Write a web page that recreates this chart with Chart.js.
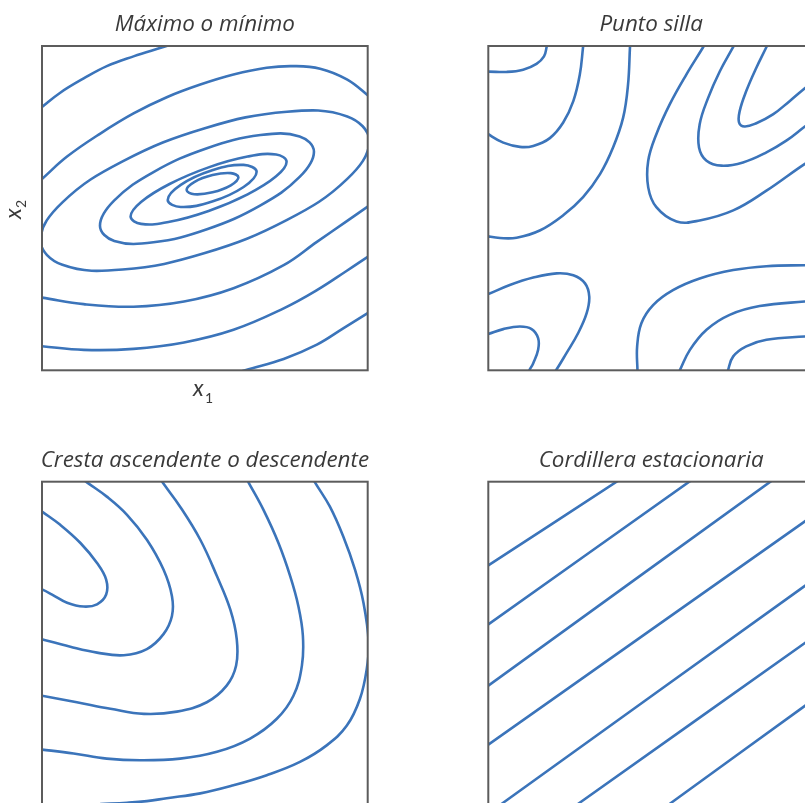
<!DOCTYPE html>
<html>
<head>
<meta charset="utf-8">
<script src="https://cdn.jsdelivr.net/npm/chart.js@4.4.1/dist/chart.umd.min.js"></script>
<style>
  html, body { margin: 0; padding: 0; width: 805px; height: 803px; overflow: hidden; background: #fff; }
  canvas { position: absolute; display: block; }
</style>
</head>
<body>
<canvas id="peak" width="400" height="410" style="left:0;top:0"></canvas>
<canvas id="saddle" width="400" height="410" style="left:445px;top:0"></canvas>
<canvas id="ridge" width="400" height="400" style="left:0;top:435px"></canvas>
<canvas id="flat" width="400" height="400" style="left:445px;top:435px"></canvas>
<script>
// Panel titles
const titles = ['Máximo o mínimo', 'Punto silla', 'Cresta ascendente o descendente', 'Cordillera estacionaria'];
const axisNames = { x: ['x', '1'], y: ['x', '2'] };

// ---- Máximo o mínimo: nested tilted rings plus outer open contours (x1, x2 in 0..100) ----
const peakArc1 = [[-2,79.6],[0,81.2],[5.6,85.6],[12.8,90.0],[19.9,93.8],[28.1,96.8],[37.0,99.6],[42,101.2]];
const peakArc2 = [[-2,57.2],[0,59.0],[7.7,65.9],[17.9,73.0],[28.1,79.2],[38.3,84.2],[48.6,88.1],[58.8,91.2],[69.0,93.3],[77.2,93.8],[85.4,93.0],[93.6,89.7],[100,84.8],[103,82]];
const peakRing3 = [[100.5,70.7],[93.73,78.28],[75.25,79.73],[50,74.66],[24.75,64.43],[6.27,51.78],[-0.5,40.1],[6.27,32.52],[24.75,31.07],[50,36.14],[75.25,46.37],[93.73,59.02]];
const peakRing4 = [[83.5,67.4],[79.1,72.12],[67.08,72.53],[50.65,68.5],[34.23,61.13],[22.2,52.38],[17.8,44.6],[22.2,39.88],[34.23,39.47],[50.65,43.5],[67.08,50.87],[79.1,59.62]];
const peakRing5 = [[75.1,64.3],[71.89,66.54],[63.13,65.91],[51.15,62.58],[39.17,57.45],[30.41,51.9],[27.2,47.4],[30.41,45.16],[39.17,45.79],[51.15,49.12],[63.13,54.25],[71.89,59.8]];
const peakRing6 = [[65.9,61.2],[61.9,63.34],[52.25,61.68],[42.6,57.18],[38.6,52.5],[42.6,50.36],[52.25,52.02],[61.9,56.52]];
const peakRing7 = [[60.3,59.5],[57.97,60.81],[52.35,60.21],[46.73,58.05],[44.4,55.6],[46.73,54.29],[52.35,54.89],[57.97,57.05]];
const peakArc8 = [[-2,22.6],[0,22.4],[12.8,20.4],[28.1,19.6],[43.6,21.2],[58.8,25.3],[74.2,32.4],[84.4,39.6],[93.6,46.0],[100,50.5],[103,52.6]];
const peakArc9 = [[-2,7.6],[0,7.4],[12.8,6.3],[28.1,6.6],[43.6,8.6],[58.8,12.5],[74.2,19.1],[84.4,24.7],[93.6,30.7],[100,35.0],[103,37]];
const peakArc10 = [[58.8,-1.3],[62.4,0],[74.2,3.5],[84.4,7.9],[92.6,13.0],[100,17.6],[103,19.5]];

// ---- Punto silla ----
const saddle1 = [[-2,92.0],[0,92.1],[5.6,92.0],[10.7,92.7],[14.8,94.5],[17.1,96.8],[17.9,99.7],[18.1,101.4]];
const saddle2 = [[29.3,101.5],[29.1,99.7],[28.1,91.2],[26.1,83.0],[23.0,76.4],[18.9,71.6],[13.8,69.2],[9.7,68.9],[4.6,70.2],[0,72.8],[-2,74.3]];
const saddle3 = [[43.6,101.5],[43.5,99.7],[42.9,88.1],[41.4,77.9],[38.3,68.7],[34.3,60.5],[29.1,53.4],[23.0,47.8],[15.8,43.1],[8.7,40.9],[3.6,40.8],[0,41.3],[-2,41.8]];
const saddle4 = [[67.0,101.5],[66.0,99.7],[60.8,91.2],[55.7,82.0],[51.6,72.8],[49.1,64.6],[49.1,56.4],[51.6,50.3],[57.8,45.9],[64.9,46.2],[75.2,49.3],[85.4,55.4],[97.1,63.6],[101.7,66.2]];
const saddle5 = [[76.2,101.5],[75.2,99.7],[71.1,92.2],[67.5,84.0],[64.9,75.9],[64.7,68.7],[67.0,64.6],[71.6,63.1],[78.2,64.1],[85.4,67.2],[91.5,70.8],[97.1,75.1],[101.7,78.4]];
const saddle6 = [[86.2,101.5],[85.4,99.7],[82.3,93.3],[79.2,86.1],[77.2,80.0],[77.0,76.4],[78.7,75.2],[82.3,76.2],[87.4,78.9],[92.5,83.0],[97.1,86.9],[100.7,89.7]];
const saddle7 = [[-2,22.8],[0,23.5],[6.6,26.3],[13.8,28.6],[21.0,29.9],[26.1,29.3],[29.7,26.8],[31.0,22.7],[30.2,17.6],[27.6,11.5],[24.0,5.3],[20.8,0],[19.4,-1.8]];
const saddle8 = [[-2,10.6],[0,11.2],[4.6,12.7],[9.7,13.5],[13.3,12.7],[15.3,9.9],[15.3,6.3],[13.8,2.2],[12.6,0],[11.8,-1.6]];
const saddle9 = [[45.9,-2],[45.8,0],[45.7,7.4],[47.0,14.5],[50.6,20.1],[56.7,24.7],[64.9,28.3],[75.2,30.9],[85.4,32.1],[97.1,32.4],[101.7,32.4]];
const saddle10 = [[57.8,-2],[58.8,0],[61.9,6.3],[67.0,12.5],[74.1,17.1],[83.3,19.8],[97.1,21.2],[101.7,21.4]];
const saddle11 = [[73.2,-2],[73.6,0],[75.2,4.3],[79.2,7.4],[85.4,9.4],[97.1,10.4],[101.7,10.6]];

// ---- Cresta ascendente o descendente ----
const ridge1 = [[-2,92.3],[0,90.8],[5.6,86.7],[11.8,81.1],[16.9,74.9],[19.7,69.8],[19.7,65.2],[16.9,62.2],[12.8,61.5],[7.7,62.7],[3.1,65.2],[0,66.8],[-2,67.6]];
const ridge2 = [[11.6,101.5],[13.8,99.8],[19.9,95.4],[26.1,89.8],[32.2,82.1],[37.3,72.9],[39.9,64.7],[39.9,58.6],[37.3,53.0],[32.2,48.4],[25.1,46.5],[16.9,47.3],[8.7,49.1],[0,51.4],[-2,52]];
const ridge3 = [[36.0,101.5],[37.0,99.8],[42.4,92.3],[48.6,82.1],[53.7,70.9],[57.8,60.6],[59.8,51.4],[59.6,43.3],[56.7,37.1],[50.6,32.0],[41.4,29.1],[31.3,28.4],[21.0,30.0],[10.7,32.0],[0,34.0],[-2,34.4]];
const ridge4 = [[62.5,101.5],[63.4,99.8],[68.0,91.3],[72.6,81.1],[76.2,70.9],[78.7,61.7],[80.1,52.5],[79.8,43.3],[77.2,34.0],[72.1,26.9],[63.9,20.8],[53.7,16.7],[42.4,14.6],[30.2,14.1],[19.9,14.6],[9.7,16.2],[0,17.4],[-2,17.6]];
const ridge5 = [[82.9,101.5],[83.8,99.8],[88.4,92.3],[92.5,83.1],[96.1,72.9],[98.7,62.7],[100.3,50.5],[99.7,42.2],[97.6,33.0],[93.6,24.8],[87.4,18.7],[79.2,13.6],[69.0,9.5],[58.8,6.4],[48.6,3.9],[38.3,2.4],[32.2,1.5],[26.1,1.0],[18,0.6]];

// ---- Cordillera estacionaria: parallel straight contours ----
const flat1 = [[-2,72.9],[0,74.2],[39.4,100.0],[42,101.7]];
const flat2 = [[-2,54.6],[0,56.0],[61.7,100.0],[64,101.6]];
const flat3 = [[-2,35.6],[0,37.1],[86.6,100.0],[89,101.7]];
const flat4 = [[-2,17.5],[0,18.9],[97.1,87.7],[102,91.2]];
const flat5 = [[0.4,-2],[5.1,1.4],[97.1,67.8],[102,71.3]];
const flat6 = [[23.8,-2],[28.6,1.4],[97.1,50.2],[102,53.7]];
const flat7 = [[52.0,-2],[56.7,1.4],[97.1,30.8],[102,34.4]];

const LINE_BLUE = '#3b74ba';
const TEXT_GREY = '#3a3a3a';
const FRAME_GREY = '#5c5c5c';

// Closed contours are drawn as full loops so the spline joins smoothly.
const closeLoops = {
  id: 'closeLoops',
  afterDatasetsUpdate(chart) {
    chart.data.datasets.forEach((ds, i) => {
      const el = chart.getDatasetMeta(i).dataset;
      if (ds.closed && el) {
        el._loop = true;
        el._fullLoop = true;
        el._pointsUpdated = false;
        delete el._segments;
        delete el._path;
      }
    });
  }
};

// Square frame around the plotting area, title above it, optional axis names.
const panelDecor = {
  id: 'panelDecor',
  afterDraw(chart, args, opts) {
    const { ctx, chartArea: a } = chart;
    ctx.save();
    ctx.strokeStyle = FRAME_GREY;
    ctx.lineWidth = 2;
    ctx.strokeRect(a.left, a.top, a.right - a.left, a.bottom - a.top);
    ctx.fillStyle = TEXT_GREY;
    ctx.font = 'italic 22.4px "Open Sans"';
    ctx.textAlign = 'center';
    ctx.textBaseline = 'alphabetic';
    ctx.fillText(opts.title, (a.left + a.right) / 2, a.top - 15);
    if (opts.axes) {
      // x1 under the frame
      ctx.textAlign = 'left';
      ctx.font = 'italic 23px Lato';
      ctx.fillText(axisNames.x[0], 193, 396);
      ctx.font = '14px Lato';
      ctx.fillText(axisNames.x[1], 205, 403);
      // x2 rotated on the left
      ctx.save();
      ctx.translate(21, 219);
      ctx.rotate(-Math.PI / 2);
      ctx.font = 'italic 23px Lato';
      ctx.fillText(axisNames.y[0], 0, 0);
      ctx.font = '14px Lato';
      ctx.fillText(axisNames.y[1], 11, 4.5);
      ctx.restore();
    }
    ctx.restore();
  }
};

function makePanel(id, title, curves, pad, axes) {
  const datasets = curves.map(c => ({
    data: c.pts.map(([x, y]) => ({ x, y })),
    closed: !!c.closed,
    showLine: true,
    borderColor: LINE_BLUE,
    borderWidth: 2.6,
    pointRadius: 0,
    pointHoverRadius: 0,
    tension: 0.4,
    fill: false,
    clip: 0
  }));
  return new Chart(document.getElementById(id), {
    type: 'scatter',
    data: { datasets },
    options: {
      responsive: false,
      animation: false,
      events: [],
      layout: { padding: pad },
      elements: { line: { capBezierPoints: false, borderCapStyle: 'round', borderJoinStyle: 'round' } },
      scales: {
        x: { type: 'linear', min: 0, max: 100, display: false },
        y: { type: 'linear', min: 0, max: 100, display: false }
      },
      plugins: {
        legend: { display: false },
        tooltip: { enabled: false },
        panelDecor: { title, axes }
      }
    },
    plugins: [closeLoops, panelDecor]
  });
}

const open = pts => ({ pts });
const ring = pts => ({ pts, closed: true });

makePanel('peak', titles[0], [
  open(peakArc1), open(peakArc2), ring(peakRing3), ring(peakRing4), ring(peakRing5),
  ring(peakRing6), ring(peakRing7), open(peakArc8), open(peakArc9), open(peakArc10)
], { left: 42, top: 46, right: 32.3, bottom: 39.7 }, true);

makePanel('saddle', titles[1], [
  open(saddle1), open(saddle2), open(saddle3), open(saddle4), open(saddle5), open(saddle6),
  open(saddle7), open(saddle8), open(saddle9), open(saddle10), open(saddle11)
], { left: 43.3, top: 46, right: 31, bottom: 39.7 }, false);

makePanel('ridge', titles[2], [
  open(ridge1), open(ridge2), open(ridge3), open(ridge4), open(ridge5)
], { left: 42, top: 46.7, right: 32.3, bottom: 29 }, false);

makePanel('flat', titles[3], [
  open(flat1), open(flat2), open(flat3), open(flat4), open(flat5), open(flat6), open(flat7)
], { left: 43.3, top: 46.7, right: 31, bottom: 29 }, false);
</script>
</body>
</html>
